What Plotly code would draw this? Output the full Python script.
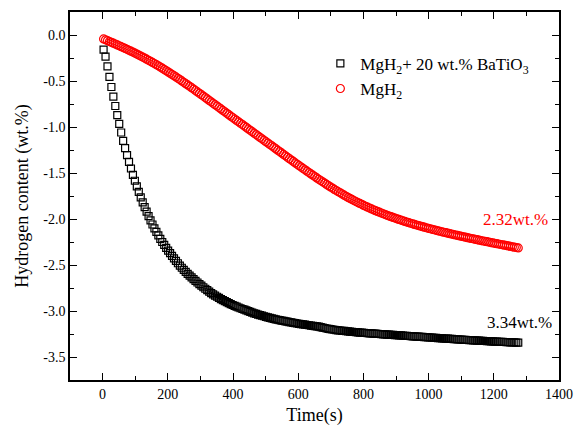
import plotly.graph_objects as go

# hydrogen release curves, one reading every 6 s starting at t = 3 s
BATIO3_WT = [
    -0.160,
    -0.235, -0.340, -0.455, -0.565, -0.670,
    -0.772, -0.871, -0.967, -1.060, -1.150,
    -1.230, -1.306, -1.380, -1.451, -1.520,
    -1.584, -1.646, -1.706, -1.764, -1.820,
    -1.871, -1.920, -1.968, -2.015, -2.060,
    -2.101, -2.140, -2.178, -2.215, -2.250,
    -2.282, -2.313, -2.343, -2.372, -2.400,
    -2.428, -2.455, -2.481, -2.506, -2.530,
    -2.553, -2.575, -2.596, -2.616, -2.635,
    -2.654, -2.672, -2.690, -2.708, -2.725,
    -2.742, -2.758, -2.774, -2.790, -2.805,
    -2.819, -2.832, -2.845, -2.858, -2.870,
    -2.882, -2.893, -2.904, -2.915, -2.925,
    -2.935, -2.944, -2.953, -2.962, -2.970,
    -2.978, -2.986, -2.994, -3.002, -3.010,
    -3.018, -3.025, -3.032, -3.039, -3.045,
    -3.051, -3.057, -3.063, -3.069, -3.075,
    -3.080, -3.085, -3.090, -3.095, -3.100,
    -3.104, -3.108, -3.112, -3.116, -3.120,
    -3.124, -3.128, -3.132, -3.136, -3.140,
    -3.143, -3.146, -3.149, -3.152, -3.155,
    -3.158, -3.161, -3.164, -3.167, -3.170,
    -3.175, -3.180, -3.185, -3.190, -3.195,
    -3.198, -3.201, -3.204, -3.207, -3.210,
    -3.212, -3.215, -3.217, -3.220, -3.222,
    -3.224, -3.226, -3.228, -3.230, -3.232,
    -3.234, -3.236, -3.238, -3.239, -3.241,
    -3.243, -3.244, -3.246, -3.247, -3.249,
    -3.250, -3.252, -3.253, -3.255, -3.256,
    -3.257, -3.259, -3.260, -3.262, -3.263,
    -3.264, -3.266, -3.267, -3.269, -3.270,
    -3.272, -3.273, -3.275, -3.276, -3.278,
    -3.279, -3.281, -3.282, -3.284, -3.285,
    -3.287, -3.288, -3.290, -3.291, -3.293,
    -3.294, -3.296, -3.297, -3.299, -3.300,
    -3.301, -3.303, -3.304, -3.306, -3.307,
    -3.308, -3.310, -3.311, -3.313, -3.314,
    -3.315, -3.316, -3.318, -3.319, -3.320,
    -3.321, -3.322, -3.324, -3.325, -3.326,
    -3.327, -3.328, -3.330, -3.331, -3.332,
    -3.333, -3.334, -3.335, -3.336, -3.337,
    -3.338, -3.339, -3.340, -3.341, -3.342,
    -3.343, -3.344,
]

MGH2_WT = [
    -0.043,
    -0.052, -0.061, -0.071, -0.080, -0.089,
    -0.098, -0.108, -0.117, -0.127, -0.136,
    -0.146, -0.156, -0.166, -0.176, -0.186,
    -0.197, -0.207, -0.218, -0.229, -0.240,
    -0.251, -0.263, -0.275, -0.286, -0.298,
    -0.310, -0.323, -0.335, -0.348, -0.361,
    -0.374, -0.388, -0.401, -0.415, -0.428,
    -0.442, -0.456, -0.471, -0.485, -0.499,
    -0.514, -0.529, -0.543, -0.558, -0.573,
    -0.588, -0.603, -0.619, -0.634, -0.649,
    -0.664, -0.680, -0.695, -0.711, -0.726,
    -0.742, -0.757, -0.773, -0.788, -0.804,
    -0.820, -0.835, -0.851, -0.866, -0.882,
    -0.897, -0.913, -0.928, -0.944, -0.959,
    -0.974, -0.990, -1.005, -1.021, -1.036,
    -1.051, -1.067, -1.082, -1.098, -1.113,
    -1.128, -1.144, -1.159, -1.175, -1.190,
    -1.205, -1.221, -1.236, -1.252, -1.267,
    -1.282, -1.298, -1.313, -1.329, -1.344,
    -1.359, -1.374, -1.390, -1.405, -1.420,
    -1.435, -1.450, -1.465, -1.480, -1.495,
    -1.510, -1.524, -1.539, -1.553, -1.568,
    -1.582, -1.596, -1.610, -1.624, -1.638,
    -1.651, -1.664, -1.678, -1.691, -1.704,
    -1.716, -1.728, -1.741, -1.753, -1.765,
    -1.776, -1.787, -1.799, -1.810, -1.821,
    -1.831, -1.841, -1.852, -1.862, -1.872,
    -1.881, -1.890, -1.900, -1.909, -1.918,
    -1.926, -1.935, -1.943, -1.952, -1.960,
    -1.968, -1.975, -1.983, -1.990, -1.998,
    -2.005, -2.012, -2.019, -2.026, -2.033,
    -2.039, -2.046, -2.052, -2.059, -2.065,
    -2.071, -2.077, -2.083, -2.089, -2.095,
    -2.101, -2.106, -2.112, -2.117, -2.123,
    -2.128, -2.133, -2.139, -2.144, -2.149,
    -2.154, -2.159, -2.164, -2.169, -2.174,
    -2.179, -2.184, -2.188, -2.193, -2.198,
    -2.203, -2.207, -2.212, -2.216, -2.221,
    -2.225, -2.230, -2.234, -2.239, -2.243,
    -2.247, -2.251, -2.256, -2.260, -2.264,
    -2.268, -2.272, -2.277, -2.281, -2.285,
    -2.289, -2.293, -2.298, -2.302, -2.306,
    -2.310, -2.314,
]

T_START, T_STEP = 3, 6
TIME_BATIO3 = [T_START + T_STEP * i for i in range(len(BATIO3_WT))]
TIME_MGH2 = [T_START + T_STEP * i for i in range(len(MGH2_WT))]

FONT = "Liberation Serif, Times New Roman, serif"

fig = go.Figure()
fig.add_trace(go.Scatter(
    x=TIME_BATIO3, y=BATIO3_WT, mode="markers",
    name="MgH<sub>2</sub>+ 20 wt.% BaTiO<sub>3</sub>",
    marker=dict(symbol="square-open", size=7, color="black", line=dict(width=1.2)),
))
fig.add_trace(go.Scatter(
    x=TIME_MGH2, y=MGH2_WT, mode="markers",
    name="MgH<sub>2</sub>",
    marker=dict(symbol="circle-open", size=8, color="red", line=dict(width=1.2)),
))

axis_common = dict(
    showline=True, linecolor="black", linewidth=1.5, mirror="allticks",
    ticks="inside", ticklen=7, tickwidth=1.2, tickcolor="black",
    showgrid=False, zeroline=False,
    tickfont=dict(family=FONT, size=14, color="black"),
)

fig.update_xaxes(
    range=[-100, 1400], tickvals=[0, 200, 400, 600, 800, 1000, 1200, 1400],
    minor=dict(ticks="inside", ticklen=4, tickcolor="black", dtick=100, tick0=-100),
    title=dict(text="Time(s)", font=dict(family=FONT, size=18, color="black"), standoff=8),
    **axis_common,
)
fig.update_yaxes(
    range=[-3.75, 0.25], tickvals=[0, -0.5, -1, -1.5, -2, -2.5, -3, -3.5],
    ticktext=["0.0", "-0.5", "-1.0", "-1.5", "-2.0", "-2.5", "-3.0", "-3.5"],
    minor=dict(ticks="inside", ticklen=4, tickcolor="black", dtick=0.25, tick0=0),
    title=dict(text="Hydrogen content (wt.%)", font=dict(family=FONT, size=18, color="black"), standoff=10),
    **axis_common,
)

fig.add_annotation(x=1268, y=-2.0, text="2.32wt.%", showarrow=False,
                   font=dict(family=FONT, size=17, color="red"))
fig.add_annotation(x=1280, y=-3.12, text="3.34wt.%", showarrow=False,
                   font=dict(family=FONT, size=17, color="black"))

fig.update_layout(
    width=583, height=437,
    margin=dict(l=70, r=17, t=10, b=57),
    paper_bgcolor="white", plot_bgcolor="white",
    font=dict(family=FONT, color="black"),
    showlegend=True,
    legend=dict(x=0.512, y=0.908, xanchor="left", yanchor="top",
                bgcolor="rgba(0,0,0,0)", font=dict(family=FONT, size=17),
                itemsizing="trace", tracegroupgap=0),
)

# page body has a default 8px margin; drop it so the chart sits at the window origin
fig.write_html("out.html", config={"displayModeBar": False},
               post_script="document.body.style.margin='0';")
